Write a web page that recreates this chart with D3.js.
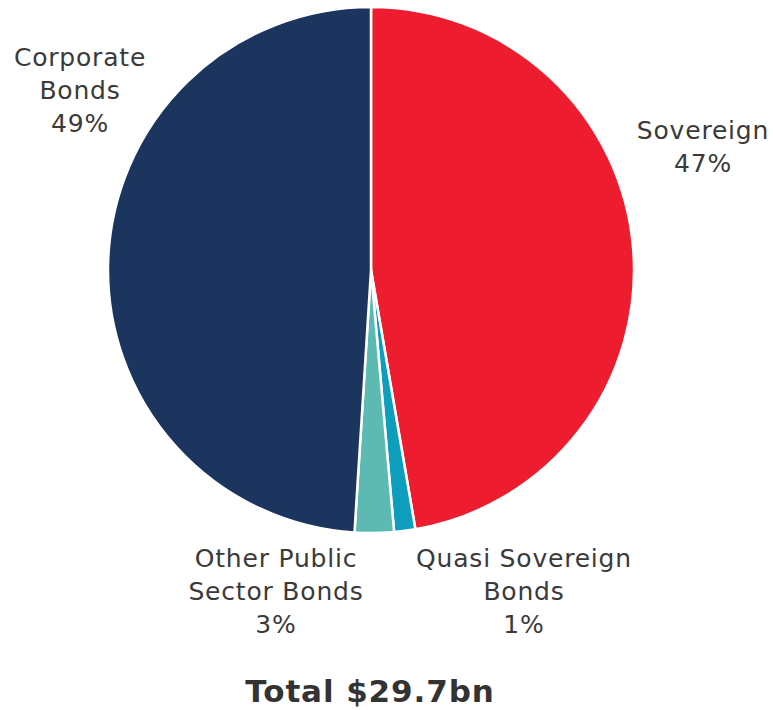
<!DOCTYPE html>
<html><head><meta charset="utf-8">
<script src="https://cdn.jsdelivr.net/npm/d3@7"></script>
<style>body{margin:0;background:#fff}svg{display:block}</style>
</head><body>
<script>
const categories = ["Sovereign", "Quasi Sovereign Bonds", "Other Public Sector Bonds", "Corporate Bonds"];
const values = [47.3, 1.3, 2.4, 49.0];
const labelLines = [["Sovereign"], ["Quasi Sovereign", "Bonds"], ["Other Public", "Sector Bonds"], ["Corporate", "Bonds"]];
const pctLabels = ["47%", "1%", "3%", "49%"];
const colors = ["#ed1c2e", "#0d9ebd", "#5dbab3", "#1c355e"];
const totalLabel = "Total $29.7bn";

const W = 773, H = 710, cx = 371, cy = 270, R = 263;
const labelPos = [[703, 130], [524, 558], [276, 558], [80, 57]];

const svg = d3.select("body").append("svg").attr("width", W).attr("height", H);
const pie = d3.pie().sort(null).value(d => d);
const arc = d3.arc().innerRadius(0).outerRadius(R);
const g = svg.append("g").attr("transform", `translate(${cx},${cy})`);
g.selectAll("path").data(pie(values)).join("path")
  .attr("d", arc).attr("fill", (d, i) => colors[i])
  .attr("stroke", "#fff").attr("stroke-width", 2.5).attr("stroke-linejoin", "round");

categories.forEach((c, i) => {
  const lines = labelLines[i].concat([pctLabels[i]]);
  const t = svg.append("text").attr("text-anchor", "middle")
    .attr("font-family", "DejaVu Sans, Verdana, sans-serif").attr("font-size", 25)
    .attr("letter-spacing", 0.8)
    .attr("fill", "#3a3a3a");
  lines.forEach((l, j) => {
    t.append("tspan").attr("x", labelPos[i][0]).attr("y", labelPos[i][1] + j * 33)
      .attr("dy", "0.35em").text(l);
  });
});

svg.append("text").attr("x", 370).attr("y", 691).attr("dy", "0.35em")
  .attr("text-anchor", "middle").attr("font-family", "DejaVu Sans, Verdana, sans-serif")
  .attr("font-weight", "bold").attr("font-size", 31).attr("letter-spacing", 0.9).attr("fill", "#333")
  .text(totalLabel);
</script>
</body></html>
